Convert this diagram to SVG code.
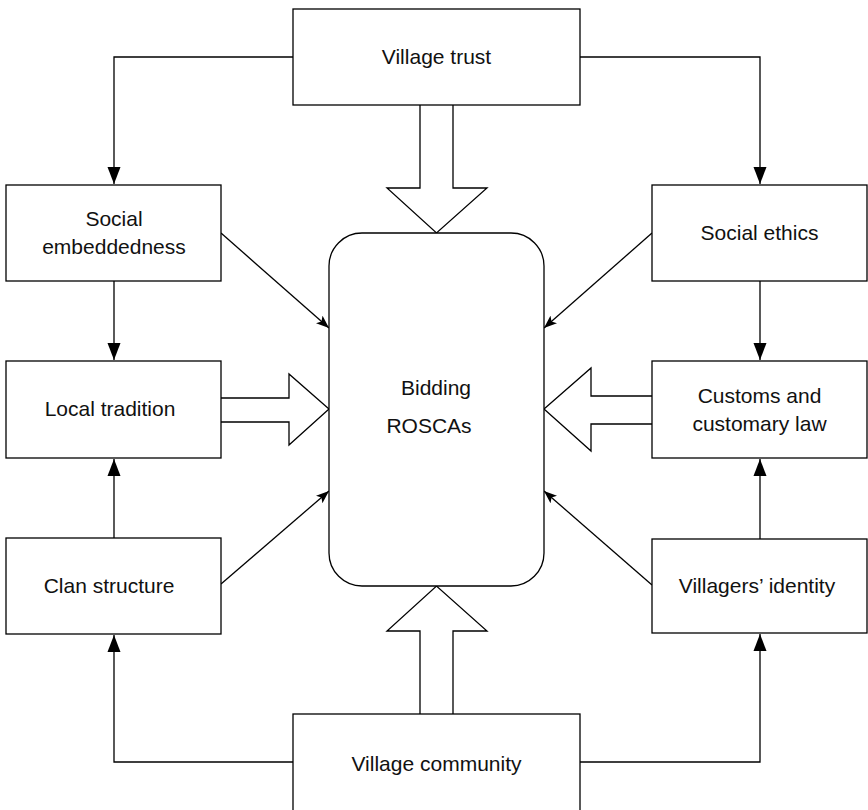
<svg xmlns="http://www.w3.org/2000/svg" width="868" height="810" viewBox="0 0 868 810">
<defs>
<style>
.box{fill:#fff;stroke:#000;stroke-width:1.3}
.ln{fill:none;stroke:#000;stroke-width:1.3}
.blk{fill:#fff;stroke:#000;stroke-width:1.3;stroke-linejoin:miter}
text{font-family:"Liberation Sans",Arial,Helvetica,sans-serif;font-size:21px;fill:#111;text-anchor:middle}
</style>
<marker id="big" markerUnits="userSpaceOnUse" markerWidth="18" markerHeight="14" refX="17" refY="7" orient="auto">
<path d="M0,0.5 L17,7 L0,13.5 z" fill="#000"/>
</marker>
<marker id="sm" markerUnits="userSpaceOnUse" markerWidth="14" markerHeight="11" refX="13" refY="5.5" orient="auto">
<path d="M0,0.5 L13,5.5 L0,10.5 L3,5.5 z" fill="#000"/>
</marker>
</defs>
<rect width="868" height="810" fill="#fff"/>

<g id="connectors">
<path class="ln" d="M293,57 H114 V184" marker-end="url(#big)"/>
<path class="ln" d="M580,57 H760 V184" marker-end="url(#big)"/>
<path class="ln" d="M114,281 V360" marker-end="url(#big)"/>
<path class="ln" d="M114,538 V459" marker-end="url(#big)"/>
<path class="ln" d="M760,281 V360" marker-end="url(#big)"/>
<path class="ln" d="M760,539 V459" marker-end="url(#big)"/>
<path class="ln" d="M293,762 H114 V635" marker-end="url(#big)"/>
<path class="ln" d="M580,762 H760 V634" marker-end="url(#big)"/>
<path class="ln" d="M221,233 L329,328" marker-end="url(#sm)"/>
<path class="ln" d="M221,584 L329,491" marker-end="url(#sm)"/>
<path class="ln" d="M652,233 L544,328" marker-end="url(#sm)"/>
<path class="ln" d="M652,585 L544,491" marker-end="url(#sm)"/>
<path class="blk" d="M420,105 V188 H387 L436.5,233 L487,188 H453 V105"/>
<path class="blk" d="M420,714 V631 H387 L436.5,586 L487,631 H453 V714"/>
<path class="blk" d="M221,398 H289 V374 L329,409 L289,445 V422 H221"/>
<path class="blk" d="M652,396 H591 V368 L544,409 L591,451 V424 H652"/>
</g>

<g id="bidding-roscas">
<rect class="box" x="329" y="233" width="215" height="353" rx="33" ry="33"/>
<text x="436" y="395">Bidding</text>
<text x="429" y="433">ROSCAs</text>
</g>
<g id="village-trust">
<rect class="box" x="293" y="9" width="287" height="96"/>
<text x="436.5" y="64">Village trust</text>
</g>
<g id="social-embeddedness">
<rect class="box" x="6" y="185" width="215" height="96"/>
<text x="114" y="226">Social</text>
<text x="114" y="254">embeddedness</text>
</g>
<g id="social-ethics">
<rect class="box" x="652" y="185" width="215" height="96"/>
<text x="759.5" y="240">Social ethics</text>
</g>
<g id="local-tradition">
<rect class="box" x="6" y="361" width="215" height="97"/>
<text x="110" y="416">Local tradition</text>
</g>
<g id="customs">
<rect class="box" x="652" y="361" width="215" height="97"/>
<text x="759.5" y="403">Customs and</text>
<text x="759.5" y="431">customary law</text>
</g>
<g id="clan-structure">
<rect class="box" x="6" y="538" width="215" height="96"/>
<text x="109" y="593">Clan structure</text>
</g>
<g id="villagers-identity">
<rect class="box" x="652" y="539" width="215" height="94"/>
<text x="757" y="593">Villagers’ identity</text>
</g>
<g id="village-community">
<rect class="box" x="293" y="714" width="287" height="110"/>
<text x="436.5" y="771">Village community</text>
</g>
</svg>
